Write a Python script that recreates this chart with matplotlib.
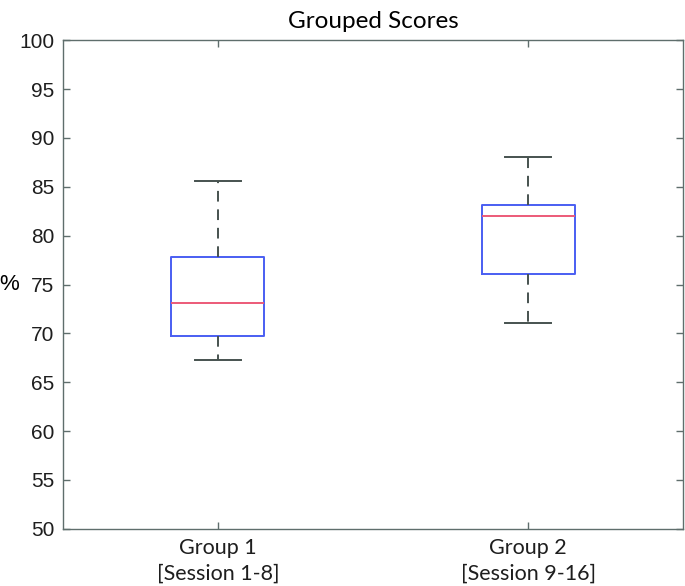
import matplotlib
matplotlib.use("Agg")
import matplotlib.pyplot as plt

groups = ["Group 1\n[Session 1-8]", "Group 2\n[Session 9-16]"]
whislo = [67.3, 71.1]
q1 = [69.7, 76.1]
med = [73.1, 82.0]
q3 = [77.8, 83.1]
whishi = [85.6, 88.1]
yticks = list(range(50, 101, 5))

fig = plt.figure(figsize=(6.85, 5.86), dpi=100)
ax = fig.add_axes([0.0915, 0.0978, 0.906, 0.8334])

stats = []
for i in range(len(groups)):
    stats.append(dict(med=med[i], q1=q1[i], q3=q3[i], whislo=whislo[i],
                      whishi=whishi[i], fliers=[], label=groups[i]))

ax.bxp(stats, positions=[1, 2], widths=0.3, showfliers=False,
       boxprops=dict(color="#4a5ef2", linewidth=1.4),
       medianprops=dict(color="#ec5a78", linewidth=1.4),
       whiskerprops=dict(color="#46524f", linewidth=1.4, linestyle=(0, (5.5, 4))),
       capprops=dict(color="#46524f", linewidth=1.4),
       capwidths=0.15)

ax.set_xlim(0.5, 2.5)
ax.set_ylim(50, 100)
ax.set_yticks(yticks)
ax.set_xticks([1, 2])
ax.set_xticklabels(groups, fontfamily="Lato", fontsize=15.5, linespacing=1.35)
for lab in ax.get_yticklabels():
    lab.set_fontfamily("Liberation Sans")
    lab.set_fontsize(15)
ax.tick_params(axis="both", direction="in", color="#5f6e6c", length=5, width=1,
               top=True, right=True, labeltop=False, labelright=False,
               labelcolor="#1e1e1e")
ax.tick_params(axis="y", pad=6)
ax.tick_params(axis="x", pad=7)
for s in ax.spines.values():
    s.set_color("#5f6e6c")
    s.set_linewidth(1)

ax.set_ylabel("%", rotation=0, fontfamily="Liberation Sans", fontsize=16, va="center",
              ha="center")
ax.yaxis.set_label_coords(-0.086, 0.5)
ax.set_title("Grouped Scores", fontfamily="Lato", fontsize=17.5, pad=9)

fig.savefig("out.png", dpi=100)
